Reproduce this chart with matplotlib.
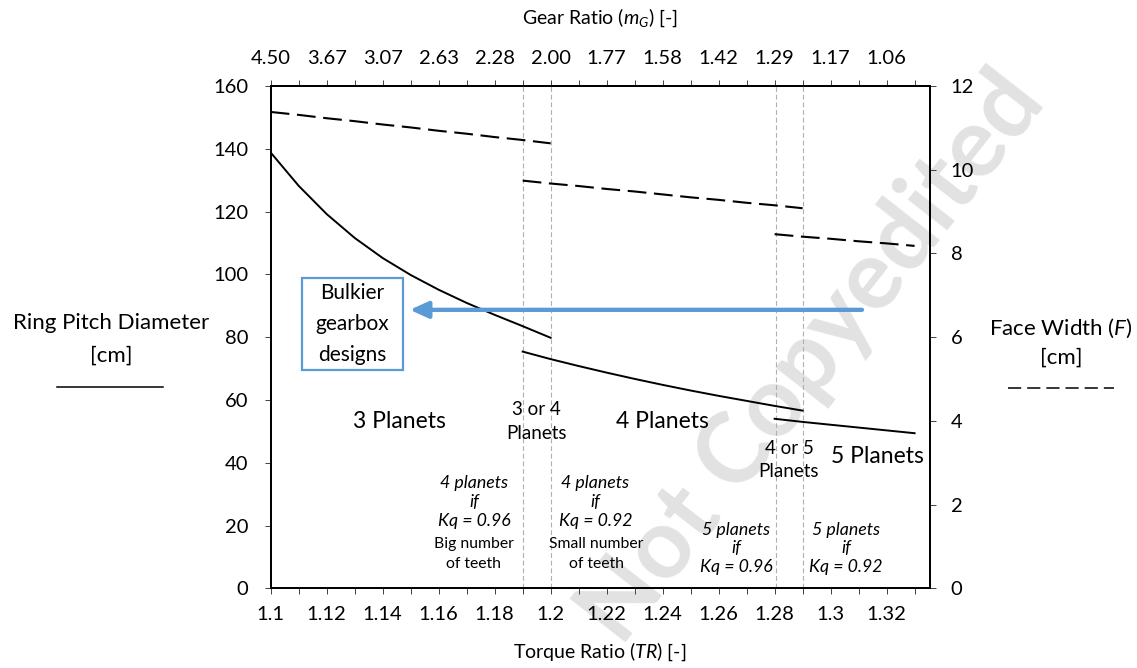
import matplotlib
matplotlib.use('Agg')
import matplotlib.pyplot as plt
from matplotlib.patches import Rectangle
from matplotlib.lines import Line2D

plt.rcParams['font.family'] = ['Lato', 'DejaVu Sans']
plt.rcParams['mathtext.fontset'] = 'custom'
plt.rcParams['mathtext.rm'] = 'Lato'
plt.rcParams['mathtext.it'] = 'Lato:italic'
plt.rcParams['lines.scale_dashes'] = False

# ring pitch diameter [cm] vs torque ratio, one branch per planet count
tr_3 = [1.10, 1.11, 1.12, 1.13, 1.14, 1.15, 1.16, 1.17, 1.18, 1.19, 1.20]
d_3 = [138.8, 128.2, 119.2, 111.6, 105.2, 99.8, 95.1, 90.9, 87.1, 83.5, 79.8]
tr_4 = [1.19, 1.20, 1.21, 1.22, 1.23, 1.24, 1.25, 1.26, 1.27, 1.28, 1.29]
d_4 = [75.4, 73.0, 70.8, 68.7, 66.7, 64.8, 63.0, 61.3, 59.7, 58.1, 56.6]
tr_5 = [1.28, 1.29, 1.30, 1.31, 1.32, 1.33]
d_5 = [54.0, 53.0, 52.1, 51.2, 50.3, 49.4]

# face width [cm]
fw_3 = [11.38, 11.31, 11.23, 11.16, 11.08, 11.01, 10.93, 10.86, 10.78, 10.71, 10.63]
fw_4 = [9.74, 9.67, 9.61, 9.54, 9.48, 9.41, 9.34, 9.28, 9.21, 9.15, 9.08]
fw_5 = [8.46, 8.40, 8.35, 8.29, 8.24, 8.18]

tr_ticks = [1.10, 1.12, 1.14, 1.16, 1.18, 1.20, 1.22, 1.24, 1.26, 1.28, 1.30, 1.32]
tr_labels = ['1.1', '1.12', '1.14', '1.16', '1.18', '1.2', '1.22', '1.24', '1.26', '1.28', '1.3', '1.32']
mg_labels = ['4.50', '3.67', '3.07', '2.63', '2.28', '2.00', '1.77', '1.58', '1.42', '1.29', '1.17', '1.06']
minor_ticks = [1.10 + 0.01 * i for i in range(24)]
boundaries = [1.19, 1.20, 1.2805, 1.29]

W, H = 1137, 668
fig = plt.figure(figsize=(W / 100, H / 100), dpi=100)


def fx(px):
    return px / W


def fy(py):
    return 1 - py / H


ax = fig.add_axes([fx(270.7), fy(588.3), (930 - 270.7) / W, (588.3 - 86) / H])
ax.set_xlim(1.10, 1.3355)
ax.set_ylim(0, 160)
ax.set_yticks(range(0, 161, 20))
ax.set_xticks(tr_ticks, tr_labels)
ax.set_xticks(minor_ticks, minor=True)

for b in boundaries:
    ax.axvline(b, color='#b0b0b0', lw=0.8, ls=(0, (3.5, 2)), zorder=1)

for xs, ys in [(tr_3, d_3), (tr_4, d_4), (tr_5, d_5)]:
    ax.plot(xs, ys, color='black', lw=1.4, zorder=3)

ax2 = ax.twinx()
ax2.set_ylim(0, 12)
ax2.set_yticks(range(0, 13, 2))
for xs, ys in [(tr_3, fw_3), (tr_4, fw_4), (tr_5, fw_5)]:
    ax2.plot(xs, ys, color='black', lw=1.5, ls=(0, (13.5, 5.5)), zorder=3)

top = ax.secondary_xaxis('top')
top.set_xticks(tr_ticks, mg_labels)
top.set_xticks(minor_ticks, minor=True)

for a in (ax, ax2):
    for s in a.spines.values():
        s.set_linewidth(1.3)
        s.set_color('black')
top.spines['top'].set_linewidth(1.3)

tick_kw = dict(length=4, width=0.7, color='#404040', labelcolor='black', labelsize=14.5)
ax.tick_params(axis='y', which='both', direction='out', pad=12, **tick_kw)
ax.tick_params(axis='x', which='both', direction='out', pad=9, **tick_kw)
ax2.tick_params(axis='y', direction='out', pad=11, **tick_kw)
top.tick_params(axis='x', which='both', direction='out', pad=10, **tick_kw)

# faint diagonal watermark behind the data
fig.text(fx(812), fy(358), 'Not Copyedited', rotation=52, ha='center', va='center',
         fontsize=70, fontweight='bold', color='#e2e2e2', zorder=0)
ax.set_zorder(2)
ax.patch.set_visible(False)
ax2.set_zorder(3)

# axis titles
fig.text(0.5275, fy(18), 'Gear Ratio ($m_G$) [-]', ha='center', va='center', fontsize=14)
fig.text(0.5275, fy(652), 'Torque Ratio ($TR$) [-]', ha='center', va='center', fontsize=14)
fig.text(fx(111), fy(323), 'Ring Pitch Diameter', ha='center', va='center', fontsize=16)
fig.text(fx(111), fy(356), '[cm]', ha='center', va='center', fontsize=16)
fig.add_artist(Line2D([fx(57), fx(163)], [fy(386.5), fy(386.5)], color='black', lw=1.1))
fig.text(fx(1061), fy(328), 'Face Width ($F$)', ha='center', va='center', fontsize=16)
fig.text(fx(1061), fy(358), '[cm]', ha='center', va='center', fontsize=16)
fig.add_artist(Line2D([fx(1008), fx(1114)], [fy(387.5), fy(387.5)], color='black', lw=1.1,
                      ls=(0, (9.5, 4.3))))

# region labels
ax.text(1.1460, 53.0, '3 Planets', ha='center', va='center', fontsize=16.5)
ax.text(1.1950, 57.0, '3 or 4', ha='center', va='center', fontsize=13.5)
ax.text(1.1950, 49.2, 'Planets', ha='center', va='center', fontsize=13.5)
ax.text(1.2400, 53.0, '4 Planets', ha='center', va='center', fontsize=16.5)
ax.text(1.2852, 44.5, '4 or 5', ha='center', va='center', fontsize=13.5)
ax.text(1.2848, 37.3, 'Planets', ha='center', va='center', fontsize=13.5)
ax.text(1.3167, 42.0, '5 Planets', ha='center', va='center', fontsize=16.5)

notes = [
    (1.1726, 33.5, ['4 planets', 'if', 'Kq = 0.96']),
    (1.2160, 33.5, ['4 planets', 'if', 'Kq = 0.92']),
    (1.2664, 18.7, ['5 planets', 'if', 'Kq = 0.96']),
    (1.3055, 18.7, ['5 planets', 'if', 'Kq = 0.92']),
]
for x, y0, lines in notes:
    for k, line in enumerate(lines):
        ax.text(x, y0 - k * 6.0, line, ha='center', va='center', fontsize=12.8, style='italic')

ax.text(1.1725, 14.1, 'Big number', ha='center', va='center', fontsize=11.3)
ax.text(1.1725, 7.6, 'of teeth', ha='center', va='center', fontsize=11.3)
ax.text(1.2164, 14.1, 'Small number', ha='center', va='center', fontsize=11.3)
ax.text(1.2164, 7.6, 'of teeth', ha='center', va='center', fontsize=11.3)

# arrow pointing towards the bulkier designs
ax.annotate('', xy=(1.1497, 88.7), xytext=(1.3112, 88.7),
            arrowprops=dict(arrowstyle='-|>,head_length=0.55,head_width=0.25',
                            mutation_scale=20, lw=3.1, color='#5b9bd5',
                            shrinkA=0, shrinkB=0), zorder=4)
fig.add_artist(Rectangle((fx(301.7), fy(370)), (403.3 - 301.7) / W, (370 - 277.7) / H,
                         fill=True, facecolor='white', edgecolor='#5b9bd5', lw=1.6,
                         transform=fig.transFigure, zorder=5))
for k, word in enumerate(['Bulkier', 'gearbox', 'designs']):
    fig.text(fx(352.5), fy(293 + 31 * k), word, ha='center', va='center', fontsize=15, zorder=6)

fig.savefig('out.png', dpi=100)
